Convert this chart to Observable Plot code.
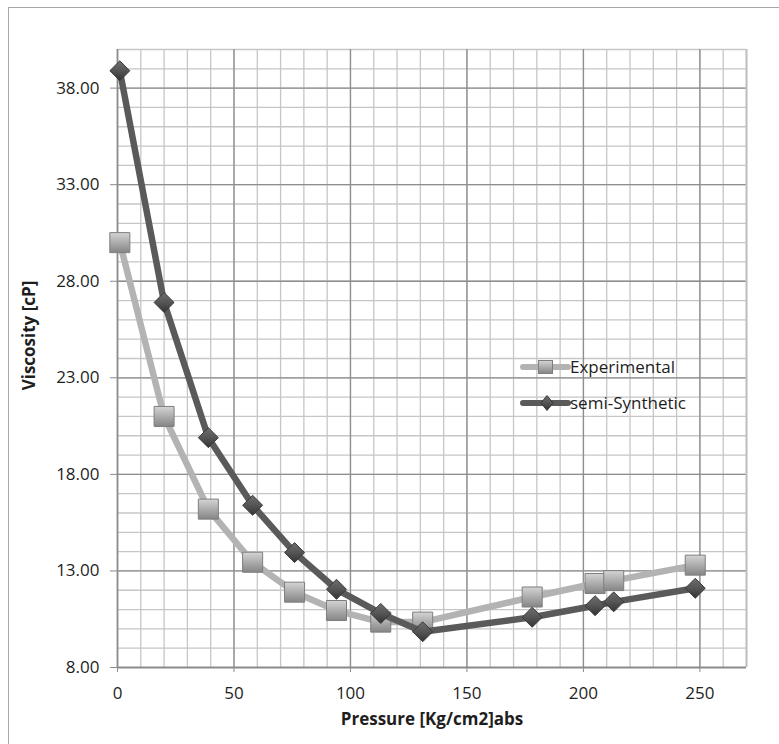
<!DOCTYPE html>
<html>
<head>
<meta charset="utf-8">
<script src="https://cdn.jsdelivr.net/npm/d3@7"></script>
<script src="https://cdn.jsdelivr.net/npm/@observablehq/plot@0.6"></script>
<style>
  html, body { margin: 0; padding: 0; background: #fff; }
  #wrap { position: relative; width: 779px; height: 744px; overflow: hidden; background: #fff; }
  #border { position: absolute; left: 8px; top: 7px; width: 900px; height: 900px; border: 1.5px solid #a8a8a8; box-sizing: border-box; }
  #chart { position: absolute; left: 0; top: 0; }
  #chart svg text { fill: #1e1e1e; }
  #legend { position: absolute; left: 500px; top: 350px; }
</style>
</head>
<body>
<div id="wrap">
  <div id="border"></div>
  <div id="chart"></div>
  <div id="legend"></div>
</div>
<script>
// ---- data ----
const pressure      = [1, 20, 39, 58, 76, 94, 113, 131, 178, 205, 213, 248];
const experimental  = [30.0, 21.0, 16.2, 13.45, 11.9, 10.95, 10.35, 10.35, 11.65, 12.35, 12.5, 13.3];
const semiSynthetic = [38.9, 26.9, 19.9, 16.4, 13.95, 12.05, 10.8, 9.85, 10.6, 11.2, 11.4, 12.1];
const seriesNames   = ["Experimental", "semi-Synthetic"];
const xTickValues   = [0, 50, 100, 150, 200, 250];
const yTickValues   = [8, 13, 18, 23, 28, 33, 38];
const xLabel = "Pressure [Kg/cm2]abs";
const yLabel = "Viscosity [cP]";

const expData  = pressure.map((p, i) => ({x: p, y: experimental[i]}));
const semiData = pressure.map((p, i) => ({x: p, y: semiSynthetic[i]}));
const xMinor = d3.range(0, 271, 10);
const yMinor = d3.range(8, 41, 1);

const svg = Plot.plot({
  width: 779,
  height: 744,
  marginLeft: 117,
  marginRight: 33,
  marginTop: 49,
  marginBottom: 77,
  style: {fontFamily: "'Open Sans', sans-serif", fontSize: "17px", color: "#8a8a8a", background: "transparent", overflow: "visible"},
  x: {domain: [0, 270], ticks: xTickValues, tickSize: 5, tickPadding: 14, tickFormat: d => String(d), label: null},
  y: {domain: [8, 40], ticks: yTickValues, tickSize: 7, tickPadding: 11, tickFormat: d => d.toFixed(2), label: null},
  marks: [
    Plot.ruleX(xMinor, {stroke: "#c6c6c6", strokeWidth: 1.3}),
    Plot.ruleY(yMinor, {stroke: "#c6c6c6", strokeWidth: 1.3}),
    Plot.ruleX(xTickValues, {stroke: "#8e8e8e", strokeWidth: 1.3}),
    Plot.ruleY(yTickValues, {stroke: "#8e8e8e", strokeWidth: 1.3}),
    Plot.ruleX([270], {stroke: "#c0c0c0", strokeWidth: 2}),
    Plot.ruleX([0], {stroke: "#8a8a8a", strokeWidth: 1.5}),
    Plot.ruleY([8], {stroke: "#8a8a8a", strokeWidth: 1.5}),
    // Experimental series
    Plot.line(expData, {x: "x", y: "y", stroke: "#b3b3b3", strokeWidth: 6.5, strokeLinejoin: "round", strokeLinecap: "round"}),
    Plot.dot(expData, {x: "x", y: "y", symbol: "square", r: 11.3, fill: "url(#sqGrad)", stroke: "#7e7e7e", strokeWidth: 1}),
    // semi-Synthetic series
    Plot.line(semiData, {x: "x", y: "y", stroke: "#5a5a5a", strokeWidth: 6.5, strokeLinejoin: "round", strokeLinecap: "round"}),
    Plot.dot(semiData, {x: "x", y: "y", symbol: "diamond2", r: 9, fill: "url(#diGrad)", stroke: "#3a3a3a", strokeWidth: 1}),
    // axis titles
    Plot.text([yLabel], {text: d => d, frameAnchor: "left", textAnchor: "middle", lineAnchor: "middle", dx: -88, dy: -23, rotate: -90, fontWeight: "bold", fontSize: 17, fill: "#1e1e1e"}),
    Plot.text([xLabel], {text: d => d, frameAnchor: "bottom", textAnchor: "middle", lineAnchor: "middle", dy: 52, fontWeight: "bold", fontSize: 17, fill: "#1e1e1e"})
  ]
});

// gradients for the bevelled markers
const NS = "http://www.w3.org/2000/svg";
const defs = document.createElementNS(NS, "defs");
defs.innerHTML = `
  <linearGradient id="sqGrad" x1="0" y1="0" x2="0" y2="1">
    <stop offset="0" stop-color="#d4d4d4"/>
    <stop offset="0.45" stop-color="#b0b0b0"/>
    <stop offset="1" stop-color="#858585"/>
  </linearGradient>
  <linearGradient id="diGrad" x1="0" y1="0" x2="0" y2="1">
    <stop offset="0" stop-color="#6e6e6e"/>
    <stop offset="0.5" stop-color="#555"/>
    <stop offset="1" stop-color="#333"/>
  </linearGradient>`;
svg.insertBefore(defs, svg.firstChild);
document.getElementById("chart").appendChild(svg);

// legend (inside plot area, as in the reference)
const lg = d3.select("#legend").append("svg").attr("width", 240).attr("height", 70)
  .style("font-family", "'Open Sans', sans-serif").style("overflow", "visible");
lg.append("defs").html(`
  <linearGradient id="sqGradL" x1="0" y1="0" x2="0" y2="1">
    <stop offset="0" stop-color="#d4d4d4"/><stop offset="0.45" stop-color="#b0b0b0"/><stop offset="1" stop-color="#858585"/>
  </linearGradient>
  <linearGradient id="diGradL" x1="0" y1="0" x2="0" y2="1">
    <stop offset="0" stop-color="#6e6e6e"/><stop offset="0.5" stop-color="#555"/><stop offset="1" stop-color="#333"/>
  </linearGradient>`);
const items = [
  {name: seriesNames[0], line: "#b3b3b3", cy: 17, marker: "square"},
  {name: seriesNames[1], line: "#5a5a5a", cy: 53, marker: "diamond"}
];
items.forEach(it => {
  const g = lg.append("g");
  g.append("line").attr("x1", 23).attr("x2", 68).attr("y1", it.cy).attr("y2", it.cy)
    .attr("stroke", it.line).attr("stroke-width", 6).attr("stroke-linecap", "round");
  if (it.marker === "square") {
    g.append("rect").attr("x", 38.5).attr("y", it.cy - 6.5).attr("width", 14).attr("height", 13)
      .attr("fill", "url(#sqGradL)").attr("stroke", "#7e7e7e");
  } else {
    g.append("path").attr("d", `M47,${it.cy - 7.5}L53,${it.cy}L47,${it.cy + 7.5}L41,${it.cy}Z`)
      .attr("fill", "url(#diGradL)").attr("stroke", "#3a3a3a");
  }
  g.append("text").attr("x", 70).attr("y", it.cy).attr("dy", "0.35em")
    .attr("font-size", 17).attr("fill", "#1e1e1e").text(it.name);
});
</script>
</body>
</html>
